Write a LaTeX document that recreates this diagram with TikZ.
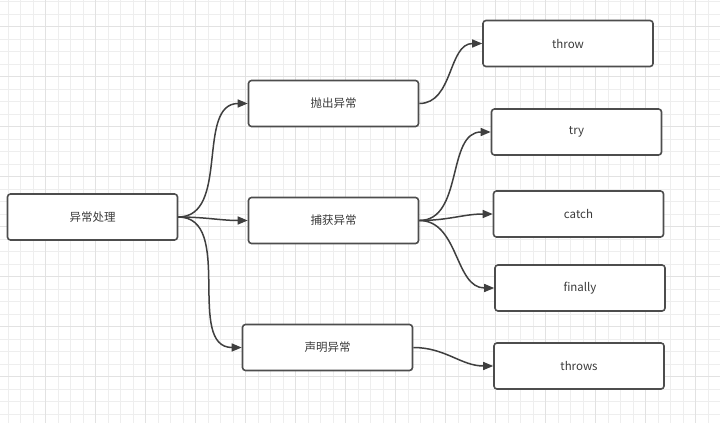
\documentclass[tikz,border=0pt]{standalone}
\usepackage{fontspec}
\setmainfont{Noto Sans CJK SC}
\usetikzlibrary{arrows.meta}
\definecolor{gridminor}{HTML}{EEEEEE}
\definecolor{gridmajor}{HTML}{E2E2E2}
\definecolor{edgegray}{HTML}{3F3F3F}
\definecolor{boxgray}{HTML}{4D4D4D}
\definecolor{textgray}{HTML}{3A3A3A}

\begin{document}
\begin{tikzpicture}[x=1pt,y=-1pt,
    box/.style={fill=white,draw=boxgray,line width=1.6pt,rounded corners=3pt,
      minimum width=170pt,minimum height=46pt,inner sep=0pt,
      font=\fontsize{11.5}{13}\selectfont,text=textgray},
    link/.style={draw=edgegray,line width=1.5pt,
      -{Triangle[length=10pt,width=8pt]},out=0,in=180}]
      \useasboundingbox (0,0) rectangle (720,423);
      \fill[white] (0,0) rectangle (720,423);
      % background grid
      \foreach \i in {0,...,57}
        \draw[gridminor,line width=0.6pt] ({8.2+12.5*\i},0) -- ++(0,423);
      \foreach \j in {0,...,33}
        \draw[gridminor,line width=0.6pt] (0,{1.7+12.5*\j}) -- ++(720,0);
      \foreach \i in {0,...,13}
        \draw[gridmajor,line width=0.6pt] ({45.7+50*\i},0) -- ++(0,423);
      \foreach \j in {0,...,8}
        \draw[gridmajor,line width=0.6pt] (0,{26.7+50*\j}) -- ++(720,0);
      \draw
        (92.5, 217) node[box] (root){异常处理}
        (333.5, 103.5) node[box] (throwout){抛出异常}
        (333.5, 220.5) node[box] (catchex){捕获异常}
        (327.5, 347.5) node[box] (declare){声明异常}
        (568, 43.5) node[box] (throw){throw}
        (576.5, 132) node[box] (try){try}
        (578.5, 214) node[box] (catch){catch}
        (580, 288) node[box] (finally){finally}
        (579, 366) node[box] (throws){throws};
      \begin{scope}[link]
        \draw (root.east) to (throwout.west);
        \draw (root.east) to (catchex.west);
        \draw (root.east) to (declare.west);
        \draw (throwout.east) to (throw.west);
        \draw (catchex.east) to (try.west);
        \draw (catchex.east) to (catch.west);
        \draw (catchex.east) to (finally.west);
        \draw (declare.east) to (throws.west);
      \end{scope}
    \end{tikzpicture}
\end{document}
